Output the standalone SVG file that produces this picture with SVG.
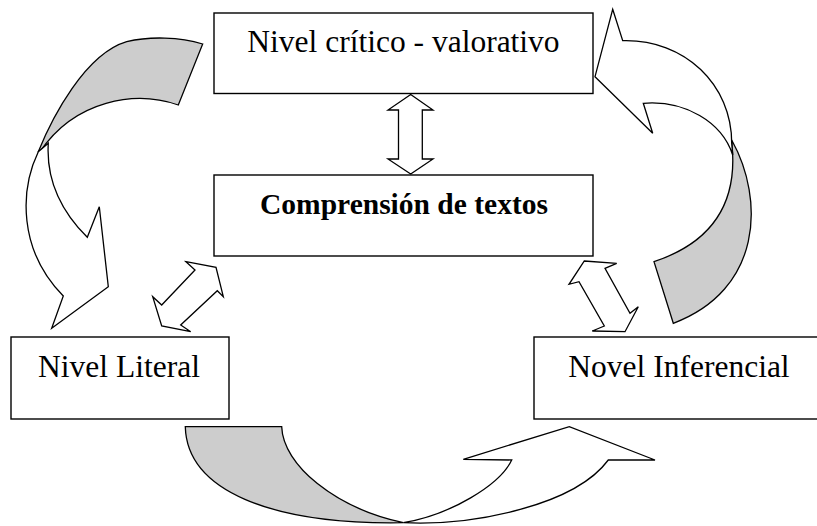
<svg xmlns="http://www.w3.org/2000/svg" width="817" height="526" viewBox="0 0 817 526">
<style>
.box{fill:#ffffff;stroke:#000000;stroke-width:1.4}
.lbl{font-family:"Liberation Serif","Times New Roman",serif;font-size:31.5px;fill:#000000;text-anchor:middle}
.bold{font-weight:bold;font-size:29.5px}
.arr{fill:#ffffff;stroke:#000000;stroke-width:1.3;stroke-linejoin:miter}
.back{fill:#cdcdcd;stroke:#000000;stroke-width:1.3;stroke-linejoin:miter}
</style>
<rect x="0" y="0" width="817" height="526" fill="#ffffff"/>
<g id="connectors">
  <g id="curve-left">
    <path class="back" d="M202.7,44 C180,37 150,36 126.7,41.7 C85,54 52,118 38.3,151.7 L40,151.7 C75,100 135,90 178.3,105 Z"/>
    <path class="arr" d="M38.3,151.7 C20,190 18,250 63.3,296 L51.7,328.3 L108.3,286.7 L99.3,206.7 L87.3,237.3 C60,210 46,180 48.3,143.3 Z"/>
  </g>
  <g id="curve-right">
    <path class="back" d="M673.3,323.3 L654,261.7 C710,243 738,205 732,145 L731.7,140 C765,200 762,290 673.3,323.3 Z"/>
    <path class="arr" d="M612.7,9.3 L622.7,40.7 C685,39 732,85 731.7,143.3 L732.7,155 C722,122 685,100 643.3,103.3 L652.7,133.3 L595,76.7 Z"/>
  </g>
  <g id="curve-bottom">
    <path class="back" d="M185.3,426.7 L281.7,426.7 C283,465 335,508 403.3,522.7 C270,525 187,490 185.3,426.7 Z"/>
    <path class="arr" d="M403.3,522.7 C475,526 575,505 608.3,460 L655,460 L569.3,426.7 L463.3,459.3 L511.7,460 C500,485 450,515 403.3,522.7 Z"/>
  </g>
  <polygon id="dbl-top" class="arr" points="410.7,94.5 433,110 422.3,110 422.3,159 433,159 410.7,174 388,159 398.5,159 398.5,110 388,110"/>
  <polygon id="dbl-left" class="arr" points="186,261.7 216,267.3 223.3,296.7 217.3,290.7 180.7,325 190.7,331.7 161.7,326 152.7,296.7 161.7,305 195,270"/>
  <polygon id="dbl-right" class="arr" points="584.3,261 616.7,263.3 605,268.3 630,313.3 638.3,306.7 625,331.7 592.3,331 604.3,326 579,281.7 569,284.3"/>
</g>
<g id="node-critico">
  <rect class="box" x="214" y="13" width="379" height="80.5"/>
  <text class="lbl" x="403.5" y="52">Nivel crítico - valorativo</text>
</g>
<g id="node-comprension">
  <rect class="box" x="214" y="175" width="379" height="81"/>
  <text class="lbl bold" x="404" y="213.5">Comprensión de textos</text>
</g>
<g id="node-literal">
  <rect class="box" x="11" y="337" width="218" height="82"/>
  <text class="lbl" x="119" y="377">Nivel Literal</text>
</g>
<g id="node-inferencial">
  <rect class="box" x="534" y="337" width="300" height="82"/>
  <text class="lbl" x="679" y="377">Novel Inferencial</text>
</g>
</svg>
